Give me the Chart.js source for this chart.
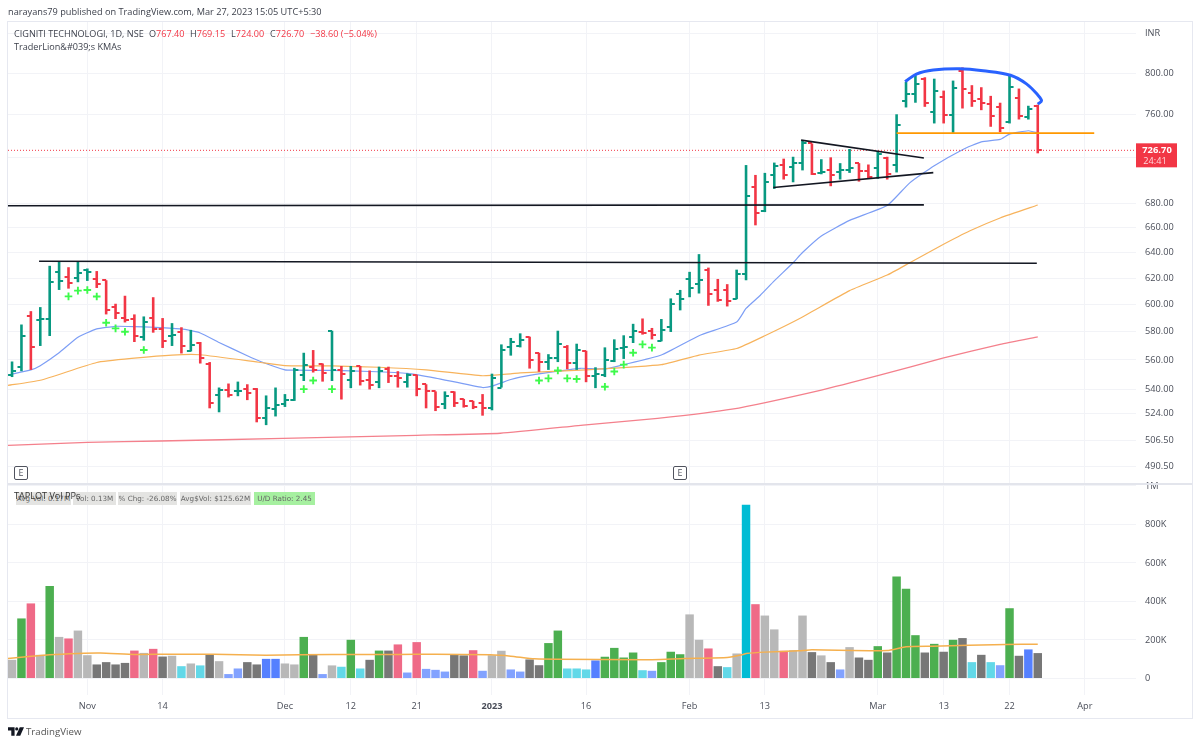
<!DOCTYPE html>
<html>
<head>
<meta charset="utf-8">
<script src="https://cdn.jsdelivr.net/npm/chart.js"></script>
<style>
  html, body { margin:0; padding:0; background:#fff; }
  body { position:relative; width:1200px; height:746px; overflow:hidden; font-family:"Open Sans",sans-serif; color:#3b3f4a; }
  canvas { position:absolute; left:0; top:0; }
  .t { position:absolute; white-space:nowrap; font-size:9.1px; line-height:13px; }
  .r { color:#f23645; }
  .badge { position:absolute; top:492px; height:13px; line-height:13px; background:#e4e4e2; color:#666; font:7.2px/13px "DejaVu Sans",sans-serif; text-align:center; white-space:nowrap; }
  .e { position:absolute; top:466px; width:12px; height:12px; border:1.5px solid #50535e; border-radius:2px; background:#fff; font-size:9px; line-height:12px; text-align:center; color:#50535e; }
  #frame { position:absolute; left:7px; top:21px; width:1184px; height:696px; border:1px solid #e6e8f0; pointer-events:none; }
</style>
</head>

<body>
<canvas id="myChart" width="1200" height="746"></canvas>
<div id="frame"></div>

<div class="t" style="left:8px;top:5px;font-size:9.2px">narayans79 published on TradingView.com, Mar 27, 2023 15:05 UTC+5:30</div>
<div class="t" style="left:14px;top:27px">CIGNITI TECHNOLOGI, 1D, NSE</div>
<div class="t" style="left:149px;top:27px">O<span class="r">767.40</span></div>
<div class="t" style="left:190px;top:27px">H<span class="r">769.15</span></div>
<div class="t" style="left:231px;top:27px">L<span class="r">724.00</span></div>
<div class="t" style="left:270px;top:27px">C<span class="r">726.70</span></div>
<div class="t r" style="left:310px;top:27px">−38.60 (−5.04%)</div>
<div class="t" style="left:14px;top:40px">TraderLion&amp;#039;s KMAs</div>

<div class="e" style="left:14px">E</div>
<div class="e" style="left:673px">E</div>

<div class="badge" style="left:16px;width:55px">Avg Vol: 0.17M</div>
<div class="badge" style="left:73px;width:43px">Vol: 0.13M</div>
<div class="badge" style="left:118px;width:59px">% Chg: -26.08%</div>
<div class="badge" style="left:180px;width:71px">Avg$Vol: $125.62M</div>
<div class="badge" style="left:254px;width:61px;background:#a6f0a0">U/D Ratio: 2.45</div>
<div class="t" style="left:14px;top:489px;font-size:9.1px;color:#333">TAPLOT Vol PPs</div>

<svg style="position:absolute;left:8px;top:727px" width="16" height="9" viewBox="0 0 17 9">
  <path d="M0 0H7V9H3.5V3.5H0Z" fill="#131722"/><circle cx="9.3" cy="1.8" r="1.7" fill="#131722"/><path d="M12.5 0H17L13 9H8.5Z" fill="#131722"/>
</svg>
<div class="t" style="left:26px;top:725px;font-size:9.7px;color:#555">TradingView</div>

<script>
  // daily bars, first bar is late October 2022
  const opens=[549.3,554.9,591.6,588.7,589.2,624.4,620.8,619.8,625.9,619.3,
    618.3,598,590.2,589.2,576.4,589.9,581.7,576.9,579.8,566.4,
    572.1,557.5,536.2,539.3,538.5,539.8,540.2,520.8,527.1,530,
    532.7,549.3,555.3,557.5,580.7,552.7,546.5,555.8,546.5,544.7,
    553.5,548.7,544.7,549.8,543.3,538.5,530,538,533.5,531.8,
    530.5,527.3,541.1,569.3,569.8,576.4,565,558.5,561.2,568.8,
    558,566.4,548.7,549.8,558.9,568.4,576.4,579.8,580.7,573.6,
    583.2,607.9,619.3,615.8,626.5,610.9,610.9,603.9,622.8,694.5,
    674.1,704.8,713.5,711.8,715.2,732.9,706.6,708.8,707.1,708.8,
    715.2,708.3,711.2,719.8,713.5,772.4,779.5,793.9,762,776.3,
    759.4,801.7,780.2,774.9,769.7,766.5,752.6,775.9,757.5,767.4];
  const highs=[558.9,585.2,595,598,629.5,633,628.4,632.5,627.4,625.4,
    618.3,600.5,606.5,592.6,591.1,605.4,589.9,586.2,583.2,581.3,
    572.6,558.5,541.1,543.8,545.1,543.3,540.7,535.8,541.1,536.7,
    554.5,565,566.9,557.5,580.7,555.8,555.8,555.8,552.7,555.3,
    555.3,552.2,550.7,549.8,543.3,538.5,538.5,538.5,533.5,532.2,
    536.7,550.5,570.9,575.5,578.8,576.4,565,564,580.7,570.4,
    571.4,566.4,554.9,568.8,574.5,577.4,585.7,589.6,582.7,589.2,
    604.5,610.9,624.8,638.7,628.1,619.3,615.3,626.5,713.5,704.8,
    706.6,715.7,719.2,720.9,735.3,732.9,718.7,720.4,715.2,727.9,
    715.2,714,726.1,720.9,760,791.2,797.8,795.8,794.4,782.7,
    792.5,805.6,788,786,777.6,771,798.3,784.7,768.1,769.15];
  const lows=[548.2,552.2,553.1,569.8,576.9,610.9,611.9,616.8,617.8,612.4,
    592.6,589.2,586.7,572.6,573.6,579.3,568.4,569.8,564.5,565.9,
    557.5,527.3,524.7,534.5,535.3,532.7,518.2,516.4,522,528.2,
    532.2,545.5,551.3,545.1,545.5,533.1,540.7,542.5,539.8,540.7,
    544.2,541.1,541.1,535.3,527.3,525.5,526.8,528.2,527.8,526.8,
    522.5,526,541.1,563,568.8,554,551.8,553.1,558.5,553.5,
    553.1,544.7,540.7,548.2,558.5,560.7,571.9,577.9,574.5,573.1,
    579.8,595.6,605.4,608.2,599,602,598.5,603.9,618.3,662,
    673,692.7,700.8,698.4,708.8,704.8,705.4,695,700.8,706.6,
    699,701.4,701.4,700.8,707,766.5,771,767.1,751.4,751.4,
    742.7,765.5,767.1,763.9,748.3,743.4,751.4,755.1,755.1,724];
  const closes=[552.2,576.9,568.8,589,617.3,617.8,616.3,623.8,624.4,615.8,
    596.1,593.6,588.7,576.9,586.7,581.7,573.1,577.4,569.8,570.2,
    561.6,530.5,539.3,536.2,538.5,537.1,520.7,527.8,529.5,532.7,
    553.1,556.7,553.1,550.9,552.7,550.5,552.2,545.5,542.5,552.2,
    549.1,547.3,549.8,540.2,538.5,528.2,535.3,530.5,528.7,528.2,
    527.3,547.3,566.9,572.6,574.1,560.2,558.5,561.2,570.9,558,
    566.9,548.7,550,560.2,567.3,568.8,580.2,579.3,577.4,581.3,
    600,603.9,612.4,618.7,608.2,603.5,602.5,622.8,687,671.9,
    698.4,712.9,704.8,715.7,732.9,705.4,707.1,704.8,708.8,710.5,
    708.3,703.1,723.8,705.4,749.5,779.5,789.3,770.4,782.7,759.4,
    785.4,784.7,772.4,770.4,758.1,747,786,758.8,765.2,726.7];

  // volume in thousands, and the colour class the indicator gave each bar
  const volumes=[97,312,390,123,481,216,208,249,121,73,
    85,73,81,145,133,154,114,118,64,78,
    68,123,90,23,52,85,73,102,102,78,
    73,216,125,23,68,61,201,52,97,145,
    145,177,31,189,50,45,36,125,120,147,
    40,121,144,47,36,99,69,184,249,52,
    52,47,94,113,159,109,135,43,40,85,
    139,126,333,201,156,64,59,130,902,386,
    327,255,144,147,327,137,120,85,47,163,
    109,97,168,135,530,466,225,135,180,139,
    201,210,85,123,85,69,365,118,151,132];
  const volClass=("l g p l g l p l l d d d d p l p d l c l "+
    "c d l b b d d B B l l g d b l c g c d g "+
    "d p b p b b b d d p b l l b b d d g g c "+
    "c c B g g g g c b g g g l l p d c l s p "+
    "l l p l l d l d b l d d g d g g g d g d "+
    "g d c d c b g d B d").split(" ");

  // moving averages, read at the bar numbers in the matching list
  const fastAt=[-0.2,2,3,5,7,9,11,13,15,18,20,22,25,26.4,29,30,34,38,42,45,50,51,53,54,58,60.4,63,65,69,73,77,78,79.5,81,83,84,86,89,93,95.4,98,101,103,105,106,108,109];
  const fastMa=[549.9,553.1,556,565,576,582,583.9,583.7,583.2,582,579.1,572.3,562.9,558.9,553.1,552.9,552.7,552,550.7,547.5,541.1,542,546.5,548.2,552.2,554.2,553.8,556.7,563.4,577.1,587,597,606.7,617.8,631.9,640,653.3,666.1,678.5,697.9,712.9,727.3,734.4,736.6,741.5,744.6,742.7];
  const midAt=[-0.43,3,9,13,17,20,26.4,29,34,39,44,50,53,54,61,69,73,77,80,83.7,89,93,95.4,98.6,101.8,105,109];
  const midMa=[542.5,546,558.2,561.2,563.4,563.6,558.2,556,555.8,554.9,553.1,549.1,550.4,551,553.1,556.7,563.4,568,577.1,589.6,610.4,622.3,631.9,645,657.5,668.1,678.9];
  const slowAt=[-0.43,8,15.7,28.8,43,51.9,61,68.6,76.5,86,92.1,98.9,105,109];
  const slowMa=[503.5,505.4,506.3,507.9,509.9,511.2,516.6,520.7,526.7,539.4,549.3,561.2,571,576.3];
  const volMaAt=[-0.43,4,7,9.4,13,16.4,21.4,27,34,41,45,50.8,53,55.5,58,67,71.5,76,77.7,78,80,83.6,85,93,95,97.8,105.6,109];
  const volMa=[104,123,130,132,125,126,126,121,125,125,126,123,116,102,100,97,104,109,125,130,137,144,149,145,165,168,177,178];

  // green plus marks of the KMA study
  const plusAt=[6,7,8,9,10,11,12,14,31,32,34,56,57,58,59,60,63,64,65,66,67,68];
  const plusVal=[606,610.4,610.9,605.9,586.5,582.4,580,566.9,540,545.8,540,545.8,547.3,552.7,547.3,546.9,541.6,552,556.7,565,570.9,568.6];

  // lines the author drew on the chart, [bar number, price]
  const resistanceA=[[2.87,633.1],[108.9,631.5]];
  const resistanceB=[[-0.43,678.3],[96.9,679.1]];
  const wedgeTop=[[83.85,735.9],[96.9,719.8]];
  const wedgeBottom=[[80.9,693.9],[97.9,706.8]];
  const breakoutLine=[[94,742.4],[115,742.4]];
  const roundTop=[[94.9,791.5],[96.1,799],[97.9,803],[100.7,804.3],[103.2,802.3],[106.1,797.8],[107.8,789.3],[109,778.5],[109.4,773],[109,769.7]];

  // axes
  const priceTicks=[840,800,760,720,680,660,640,620,600,580,560,540,524,506.5,490.5];
  const volTicks=[0,200,400,600,800,1000];
  const timeAt=[8,16,29,36,43,51,61,72,80,92,99,106,114];
  const timeLabels=['Nov','14','Dec','12','21','2023','16','Feb','13','Mar','13','22','Apr'];
  const lastClose=closes[closes.length-1];

  const UP='#089981', DOWN='#f23645', GRID='#f2f3f7';
  const volColors={g:'#4caf50',p:'#ef6a87',l:'#b8b8b8',d:'#777777',c:'#62d8e8',b:'#82a2ff',B:'#5580ff',s:'#00bcd4'};
  const isUp=closes.map((c,i)=> i==0 || c>=closes[i-1]);
  const axisFont={family:'"Open Sans",sans-serif',size:9.2};

  function tickImage(color,left){
    const c=document.createElement('canvas');
    c.width=10; c.height=2;
    const g=c.getContext('2d');
    g.fillStyle=color;
    g.fillRect(left?1:5,0,4,2);
    return c;
  }
  const openUp=tickImage(UP,true), openDown=tickImage(DOWN,true);
  const closeUp=tickImage(UP,false), closeDown=tickImage(DOWN,false);

  function pts(xs,ys){ return xs.map((x,i)=>({x:x,y:ys[i]})); }
  function pairs(list){ return list.map(p=>({x:p[0],y:p[1]})); }
  function drawn(list,color,width,order,tension){
    return {type:'line',data:pairs(list),borderColor:color,borderWidth:width,pointRadius:0,yAxisID:'y',order:order,tension:tension||0};
  }
  function ma(xs,ys,color,width){
    return {type:'line',data:pts(xs,ys),borderColor:color,borderWidth:width,pointRadius:0,yAxisID:'y',order:8,tension:0.15};
  }

  const panePlugin={
    id:'panes',
    beforeDatasetsDraw(chart){
      const g=chart.ctx, a=chart.chartArea;
      g.save();
      g.strokeStyle='#e3e5ec'; g.lineWidth=2;
      g.beginPath(); g.moveTo(a.left,484); g.lineTo(1192,484); g.stroke();
      g.restore();
    },
    afterDraw(chart){
      const g=chart.ctx, py=chart.scales.y.getPixelForValue(lastClose);
      g.save();
      g.fillStyle=DOWN;
      g.fillRect(chart.chartArea.right,py-7,41,24);
      g.textBaseline='middle'; g.textAlign='center';
      g.fillStyle='#fff';
      g.font='700 9.4px "Open Sans",sans-serif';
      g.fillText('726.70',chart.chartArea.right+21,py);
      g.font='9.2px "Open Sans",sans-serif';
      g.fillStyle='#ffd9dd';
      g.fillText('24:41',chart.chartArea.right+19,py+11);
      g.restore();
    }
  };

  const ctx=document.getElementById('myChart');
  new Chart(ctx,{
    type:'bar',
    plugins:[panePlugin],
    data:{datasets:[
      {data:volumes.map((v,i)=>({x:i,y:v})),yAxisID:'yv',backgroundColor:volClass.map(k=>volColors[k]),grouped:false,categoryPercentage:1,barPercentage:0.9,order:12},
      {type:'line',data:pts(volMaAt,volMa),borderColor:'#f5b04e',borderWidth:1.5,pointRadius:0,yAxisID:'yv',order:11,tension:0.15},
      ma(slowAt,slowMa,'#f4808c',1.3),
      ma(midAt,midMa,'#f7b35c',1.2),
      ma(fastAt,fastMa,'#7d9ef5',1.2),
      {type:'line',data:[{x:-0.43,y:lastClose},{x:119.44,y:lastClose}],borderColor:DOWN,borderWidth:1,borderDash:[1,2],pointRadius:0,yAxisID:'y',order:7},
      {data:highs.map((h,i)=>({x:i,y:[lows[i],h]})),yAxisID:'y',backgroundColor:isUp.map(u=>u?UP:DOWN),grouped:false,maxBarThickness:2.6,order:5},
      {type:'line',data:pts(opens.map((v,i)=>i),opens),showLine:false,pointRadius:3,pointStyle:c=>isUp[c.dataIndex]?openUp:openDown,yAxisID:'y',order:4},
      {type:'line',data:pts(closes.map((v,i)=>i),closes),showLine:false,pointRadius:3,pointStyle:c=>isUp[c.dataIndex]?closeUp:closeDown,yAxisID:'y',order:4},
      {type:'line',data:pts(plusAt,plusVal),showLine:false,pointStyle:'cross',pointRadius:3.8,pointBorderColor:'#3dfa4b',pointBorderWidth:1.9,yAxisID:'y',order:6},
      drawn(resistanceA,'#131722',1.7,3),
      drawn(resistanceB,'#131722',1.7,3),
      drawn(wedgeTop,'#131722',1.7,3),
      drawn(wedgeBottom,'#131722',1.7,3),
      drawn(breakoutLine,'#ff9800',1.7,3),
      drawn(roundTop,'#2962ff',3,2,0.35)
    ]},
    options:{
      responsive:false,
      animation:false,
      events:[],
      layout:{padding:{left:8,top:22,right:0,bottom:28}},
      plugins:{legend:{display:false},tooltip:{enabled:false}},
      scales:{
        x:{
          type:'linear',min:-0.43,max:119.44,offset:false,
          grid:{color:GRID,offset:false,drawTicks:false},
          border:{display:false},
          afterBuildTicks:s=>{ s.ticks=timeAt.map(v=>({value:v})); },
          afterFit:s=>{ s.height=23; },
          ticks:{
            autoSkip:false,maxRotation:0,padding:6,color:'#4a4e59',
            font:c=>({family:axisFont.family,size:axisFont.size,weight:c.tick&&c.tick.value==51?'700':'400'}),
            callback:v=>timeLabels[timeAt.indexOf(v)]
          }
        },
        y:{
          type:'logarithmic',position:'right',min:369.2,max:852.4,weight:1,
          grid:{color:GRID,drawTicks:false},
          border:{display:false},
          afterBuildTicks:s=>{ s.ticks=priceTicks.map(v=>({value:v})); },
          afterFit:s=>{ s.width=64; },
          ticks:{
            autoSkip:false,padding:9,color:'#4a4e59',font:axisFont,
            callback:v=> v==840?'INR':(v==720?'':v.toFixed(2))
          }
        },
        yv:{
          type:'linear',axis:'y',position:'right',min:-85.7,max:3410,weight:-1,
          grid:{color:GRID,drawTicks:false},
          border:{display:false},
          afterBuildTicks:s=>{ s.ticks=volTicks.map(v=>({value:v})); },
          // shares the price axis strip, so no own width and no clipping of its labels
          afterFit:s=>{ s.width=0; s._computeLabelArea=()=>undefined; },
          ticks:{
            autoSkip:false,padding:9,color:'#4a4e59',font:axisFont,
            callback:v=> v==1000?'1M':(v==0?'0':v+'K')
          }
        }
      }
    }
  });
</script>
</body>
</html>
